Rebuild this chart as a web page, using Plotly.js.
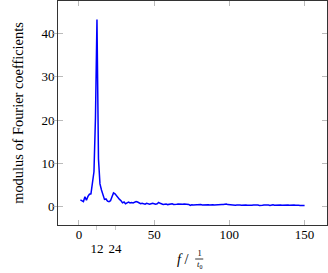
<!DOCTYPE html>
<html>
<head>
<meta charset="utf-8">
<script src="https://cdn.plot.ly/plotly-3.0.1.min.js"></script>
<style>html,body{margin:0;padding:0;background:#fff}#c{width:328px;height:273px}</style>
</head>
<body>
<div id="c"></div>
<script>
// frequency f (in units of 1/t0) and modulus of Fourier coefficients
var freq = [];
for (var i = 1; i <= 150; i++) freq.push(i);
var modulus = [
  1.5, 1.3, 1.1, 2.2, 1.4, 2.3, 2.8, 2.9, 5.0, 8.0,
  20.5, 43.3, 11.0, 5.2, 3.8, 2.9, 1.6, 1.7, 1.2, 1.1,
  1.3, 2.2, 3.1, 2.9, 2.4, 1.9, 1.6, 1.3, 0.8, 1.0,
  0.6, 0.8, 1.0, 0.8, 0.9, 0.8, 1.0, 1.1, 1.0, 0.7,
  0.6, 0.7, 0.6, 0.5, 0.7, 0.6, 0.5, 0.6, 0.7, 0.6,
  0.5, 0.6, 0.9, 0.7, 0.5, 0.45, 0.5, 0.55, 0.4, 0.45,
  0.5, 0.6, 0.45, 0.4, 0.5, 0.55, 0.5, 0.6, 0.5, 0.55,
  0.5, 0.55, 0.45, 0.2, 0.35, 0.3, 0.35, 0.4, 0.3, 0.35,
  0.4, 0.3, 0.35, 0.3, 0.4, 0.35, 0.3, 0.4, 0.35, 0.3,
  0.35, 0.4, 0.3, 0.35, 0.45, 0.4, 0.5, 0.55, 0.4, 0.35,
  0.3, 0.35, 0.3, 0.25, 0.3, 0.35, 0.3, 0.25, 0.3, 0.4,
  0.3, 0.25, 0.2, 0.3, 0.25, 0.3, 0.35, 0.25, 0.3, 0.2,
  0.3, 0.25, 0.3, 0.35, 0.25, 0.3, 0.2, 0.3, 0.35, 0.25,
  0.3, 0.2, 0.25, 0.3, 0.25, 0.3, 0.35, 0.25, 0.3, 0.25,
  0.3, 0.35, 0.3, 0.25, 0.3, 0.25, 0.2, 0.25, 0.2, 0.2
];
var mainTicks = [0, 50, 100, 150];
var extraTicks = [12, 24];
var yTicks = [0, 10, 20, 30, 40];

var fam = '"Liberation Serif", "DejaVu Serif", serif';
var font = {family: fam, size: 13, color: '#000'};
var titleFont = {family: fam, size: 14.4, color: '#000'};
var xr = [-13.9, 164.9];

var data = [
  {x: freq, y: modulus, type: 'scatter', mode: 'lines',
   line: {color: '#0000ff', width: 1.5}, xaxis: 'x', yaxis: 'y', showlegend: false},
  {x: extraTicks, y: [null, null], type: 'scatter', mode: 'lines', xaxis: 'x2', yaxis: 'y', showlegend: false, hoverinfo: 'skip'}
];

var layout = {
  width: 328, height: 273,
  margin: {l: 58, r: 1, t: 1, b: 48},
  paper_bgcolor: '#fff', plot_bgcolor: '#fff',
  font: font,
  xaxis: {
    range: xr, tickvals: mainTicks, ticktext: mainTicks.map(String),
    ticks: 'inside', ticklen: 5, tickcolor: '#aaa', tickwidth: 0.8,
    ticklabelstandoff: -3,
    showline: true, linecolor: '#333', linewidth: 1, mirror: 'allticks',
    showgrid: false, zeroline: false, tickfont: font
  },
  xaxis2: {
    range: xr, overlaying: 'x', anchor: 'y', side: 'bottom',
    tickvals: extraTicks, ticktext: extraTicks.map(String),
    ticks: 'outside', ticklen: 4, tickcolor: '#bbb', tickwidth: 0.8,
    ticklabelstandoff: 7,
    showline: false, showgrid: false, zeroline: false, tickfont: font
  },
  yaxis: {
    range: [-4.33, 47.6], tickvals: yTicks, ticktext: yTicks.map(String),
    ticks: 'inside', ticklen: 5, tickcolor: '#aaa', tickwidth: 0.8,
    showline: true, linecolor: '#333', linewidth: 1, mirror: 'allticks',
    showgrid: false, zeroline: false, tickfont: font,
    title: {text: 'modulus of Fourier coefficients', font: titleFont, standoff: 14}
  },
  shapes: [
    {type: 'line', xref: 'paper', yref: 'paper', x0: 0.5100, x1: 0.5400, y0: -0.1518, y1: -0.1518,
     line: {color: '#000', width: 0.8}}
  ],
  annotations: [
    {text: '<i>f</i> /', xref: 'paper', yref: 'paper', x: 0.466, y: -0.152, xanchor: 'center', yanchor: 'middle',
     showarrow: false, font: titleFont},
    {text: '1<br><i>t</i><sub>0</sub>', xref: 'paper', yref: 'paper', x: 0.525, y: -0.150, xanchor: 'center', yanchor: 'middle',
     showarrow: false, font: {family: fam, size: 8.5, color: '#000'}}
  ]
};
Plotly.newPlot('c', data, layout, {displayModeBar: false, staticPlot: true});
</script>
</body>
</html>
